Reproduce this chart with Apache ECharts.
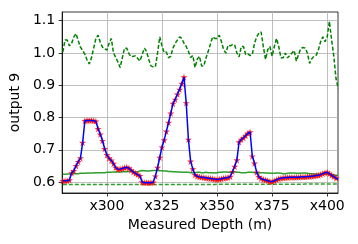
<!DOCTYPE html>
<html>
<head>
<meta charset="utf-8">
<script src="https://cdn.jsdelivr.net/npm/echarts@6/dist/echarts.min.js"></script>
<style>html,body{margin:0;padding:0;background:#fff}#c{width:358px;height:244px}</style>
</head>
<body>
<div id="c"></div>
<script>
const depth = [280,281,282,283,284,285,286,287,288,289,290,291,292,293,294,295,296,297,298,299,300,301,302,303,304,305,306,307,308,309,310,311,312,313,314,315,316,317,318,319,320,321,322,323,324,325,326,327,328,329,330,331,332,333,334,335,336,337,338,339,340,341,342,343,344,345,346,347,348,349,350,351,352,353,354,355,356,357,358,359,360,361,362,363,364,365,366,367,368,369,370,371,372,373,374,375,376,377,378,379,380,381,382,383,384,385,386,387,388,389,390,391,392,393,394,395,396,397,398,399,400,401,402,403,404,405];
const predicted = [0.604,0.604,0.604,0.606,0.628,0.635,0.650,0.663,0.674,0.722,
0.790,0.791,0.791,0.791,0.790,0.788,0.765,0.748,0.728,0.703,
0.684,0.674,0.667,0.657,0.645,0.639,0.640,0.642,0.644,0.646,
0.643,0.637,0.631,0.627,0.623,0.619,0.600,0.598,0.598,0.598,
0.598,0.599,0.618,0.645,0.676,0.708,0.730,0.757,0.784,0.813,
0.843,0.856,0.872,0.887,0.905,0.925,0.845,0.732,0.664,0.640,
0.622,0.618,0.616,0.615,0.614,0.613,0.612,0.611,0.610,0.609,
0.608,0.609,0.610,0.612,0.613,0.614,0.617,0.632,0.648,0.668,
0.724,0.732,0.737,0.744,0.751,0.755,0.680,0.658,0.630,0.616,
0.611,0.608,0.606,0.604,0.602,0.601,0.604,0.607,0.610,0.612,
0.613,0.614,0.614,0.615,0.615,0.615,0.615,0.615,0.616,0.616,
0.616,0.617,0.617,0.618,0.619,0.620,0.621,0.623,0.626,0.629,
0.630,0.626,0.621,0.617,0.612,0.608];
const upper = [1.003,1.040,1.040,1.022,1.030,1.050,1.060,1.038,1.018,1.008,
0.996,0.978,0.966,0.985,1.015,1.045,1.055,1.033,1.018,1.013,
1.009,1.030,1.045,1.000,0.986,0.972,0.955,0.985,1.015,1.015,
0.998,0.988,0.990,0.991,0.983,0.975,0.995,1.015,1.005,0.980,
0.960,0.957,0.957,1.000,1.050,1.022,1.001,1.003,0.985,0.990,
1.015,1.030,1.040,1.050,1.045,1.030,1.020,1.005,0.986,0.992,
0.955,0.980,0.990,0.960,0.960,0.985,1.005,1.028,1.050,1.045,
1.045,1.055,1.035,1.010,1.000,1.024,1.022,1.026,1.025,1.000,
0.988,1.020,1.020,0.995,0.997,0.992,0.995,1.030,1.050,1.062,
1.065,1.020,0.980,1.010,1.020,0.990,1.020,1.045,1.020,0.985,
0.985,1.000,0.985,0.992,1.000,1.008,0.975,0.995,1.014,1.017,
1.015,1.000,0.968,0.982,0.990,0.993,1.010,1.035,1.050,1.035,
1.050,1.098,1.040,0.990,0.920,0.890];
const reference = [0.624,0.624,0.625,0.625,0.625,0.626,0.626,0.626,0.627,0.627,
0.627,0.628,0.628,0.628,0.628,0.629,0.629,0.629,0.629,0.629,
0.630,0.630,0.630,0.631,0.631,0.631,0.631,0.632,0.632,0.632,
0.633,0.633,0.633,0.632,0.632,0.634,0.636,0.635,0.634,0.634,
0.635,0.636,0.636,0.636,0.635,0.635,0.634,0.634,0.633,0.633,
0.632,0.632,0.631,0.631,0.630,0.630,0.630,0.630,0.629,0.629,
0.629,0.630,0.630,0.629,0.629,0.630,0.629,0.629,0.629,0.628,
0.629,0.630,0.630,0.631,0.631,0.630,0.630,0.631,0.631,0.630,
0.630,0.629,0.629,0.629,0.630,0.630,0.630,0.629,0.629,0.628,
0.629,0.629,0.628,0.628,0.627,0.627,0.627,0.628,0.628,0.627,
0.626,0.626,0.627,0.628,0.628,0.628,0.627,0.627,0.627,0.628,
0.628,0.627,0.626,0.626,0.625,0.625,0.625,0.624,0.624,0.624,
0.625,0.624,0.623,0.622,0.621,0.620];
const lower = [0.592,0.592,0.592,0.592,0.592,0.592,0.592,0.592,0.592,0.592,
0.592,0.592,0.592,0.592,0.592,0.592,0.592,0.592,0.592,0.592,
0.592,0.592,0.592,0.592,0.592,0.592,0.592,0.592,0.592,0.592,
0.592,0.592,0.592,0.592,0.592,0.592,0.592,0.592,0.592,0.592,
0.592,0.592,0.592,0.592,0.592,0.592,0.592,0.592,0.592,0.592,
0.592,0.592,0.592,0.592,0.592,0.592,0.592,0.592,0.592,0.592,
0.592,0.592,0.592,0.592,0.592,0.592,0.592,0.592,0.592,0.592,
0.593,0.593,0.593,0.593,0.593,0.593,0.593,0.593,0.593,0.593,
0.593,0.593,0.593,0.593,0.593,0.593,0.593,0.593,0.593,0.593,
0.593,0.593,0.593,0.593,0.593,0.593,0.593,0.593,0.593,0.593,
0.593,0.593,0.593,0.593,0.593,0.593,0.593,0.593,0.593,0.593,
0.594,0.594,0.594,0.594,0.594,0.594,0.594,0.594,0.594,0.594,
0.594,0.594,0.594,0.594,0.594,0.594];
const xTicks = [300,325,350,375,400];
const yTicks = [0.6,0.7,0.8,0.9,1.0,1.1];

const pair = arr => depth.map((d, i) => [d, arr[i]]);
const star = 'path://M50,0 L61,35 L98,35 L68,57 L79,91 L50,70 L21,91 L32,57 L2,35 L39,35 Z';
const font = 'DejaVu Sans';

const chart = echarts.init(document.getElementById('c'), null, {renderer: 'canvas'});
chart.setOption({
  animation: false,
  grid: {left: 59, right: 20, top: 12, bottom: 51, show: true, borderColor: '#000', borderWidth: 0.8, backgroundColor: 'transparent'},
  xAxis: {
    type: 'value', min: 279.7, max: 404.9,
    name: 'Measured Depth (m)', nameLocation: 'middle', nameGap: 24,
    nameTextStyle: {fontFamily: font, fontSize: 14, color: '#000'},
    axisLine: {show: true, lineStyle: {color: '#000', width: 0.8}},
    axisTick: {show: true, length: 3.5, lineStyle: {color: '#000', width: 0.8}, customValues: xTicks},
    axisLabel: {fontFamily: font, fontSize: 14, color: '#000', margin: 6, customValues: xTicks, formatter: v => 'x' + v},
    splitLine: {show: true, lineStyle: {color: '#b0b0b0', width: 0.8}}
  },
  yAxis: {
    type: 'value', min: 0.566, max: 1.127,
    name: 'output 9', nameLocation: 'middle', nameGap: 37,
    nameTextStyle: {fontFamily: font, fontSize: 14, color: '#000'},
    axisLine: {show: true, lineStyle: {color: '#000', width: 0.8}},
    axisTick: {show: true, length: 3.5, lineStyle: {color: '#000', width: 0.8}, customValues: yTicks},
    axisLabel: {fontFamily: font, fontSize: 14, color: '#000', margin: 7, customValues: yTicks, formatter: v => v.toFixed(1)},
    splitLine: {show: true, lineStyle: {color: '#b0b0b0', width: 0.8}}
  },
  series: [
    {type: 'line', data: pair(upper), showSymbol: false, symbol: 'none', clip: true,
     lineStyle: {color: '#008000', width: 1.5, type: [4, 2]}, z: 2},
    {type: 'line', data: pair(reference), showSymbol: false, symbol: 'none', clip: true,
     lineStyle: {color: '#2ca02c', width: 1.5}, z: 2},
    {type: 'line', data: pair(lower), showSymbol: false, symbol: 'none', clip: true,
     lineStyle: {color: '#2ca02c', width: 1.5, type: [4, 2]}, z: 2},
    {type: 'scatter', data: pair(predicted), symbol: star, symbolSize: 7, clip: true,
     itemStyle: {color: '#ff0000', opacity: 0.85}, z: 3},
    {type: 'line', data: pair(predicted), showSymbol: false, symbol: 'none', clip: true,
     lineStyle: {color: '#0000ff', width: 1.5}, z: 4}
  ]
});
</script>
</body>
</html>
